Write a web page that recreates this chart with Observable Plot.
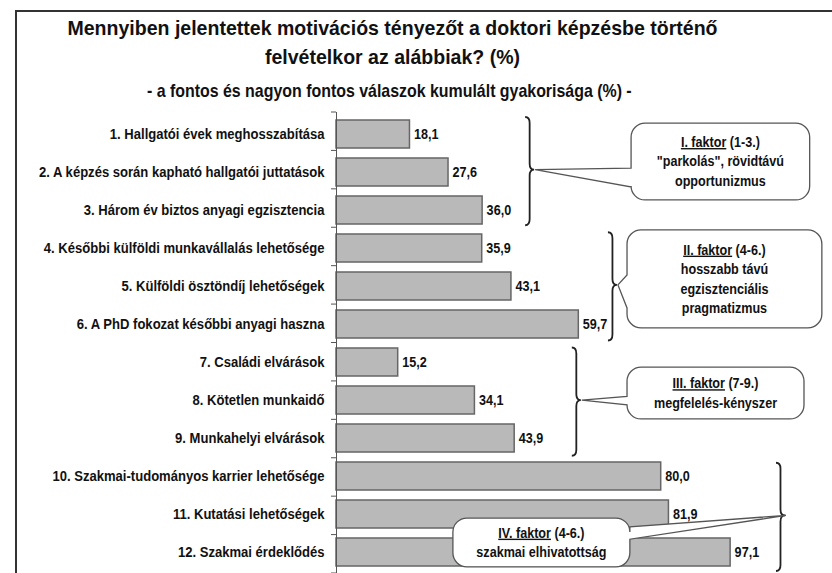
<!DOCTYPE html>
<html><head><meta charset="utf-8">
<script src="https://cdn.jsdelivr.net/npm/d3@7"></script>
<script src="https://cdn.jsdelivr.net/npm/@observablehq/plot@0.6"></script>
<style>
html,body{margin:0;padding:0;background:#fff;overflow:hidden;width:832px;height:573px;}
body{position:relative;font-family:"Liberation Sans",Arial,sans-serif;font-weight:bold;color:#111;}
#frame{position:absolute;left:15px;top:10px;width:900px;height:700px;border-top:2px solid #333;border-left:2px solid #333;}
#title{position:absolute;left:0;width:784px;top:13px;text-align:center;font-size:21px;line-height:29px;}
#subtitle{position:absolute;left:0;width:778px;top:81px;text-align:center;font-size:17.7px;line-height:20px;}
.narrow{display:inline-block;transform:scaleX(0.9);transform-origin:50% 50%;}
#title .narrow{transform:scaleX(0.93);}
#chart{position:absolute;left:0;top:100px;}
</style></head>
<body>
<div id="frame"></div>
<div id="title"><span class="narrow">Mennyiben jelentettek motivációs tényezőt a doktori képzésbe történő<br>felvételkor az alábbiak? (%)</span></div>
<div id="subtitle"><span class="narrow">- a fontos és nagyon fontos válaszok kumulált gyakorisága (%) -</span></div>
<div id="chart"></div>
<script>
// ---- data ----
const categories = [
  "1. Hallgatói évek meghosszabítása",
  "2. A képzés során kapható hallgatói juttatások",
  "3. Három év biztos anyagi egzisztencia",
  "4. Későbbi külföldi munkavállalás lehetősége",
  "5. Külföldi ösztöndíj lehetőségek",
  "6. A PhD fokozat későbbi anyagi haszna",
  "7. Családi elvárások",
  "8. Kötetlen munkaidő",
  "9. Munkahelyi elvárások",
  "10. Szakmai-tudományos karrier lehetősége",
  "11. Kutatási lehetőségek",
  "12. Szakmai érdeklődés"
];
const values = [18.1, 27.6, 36.0, 35.9, 43.1, 59.7, 15.2, 34.1, 43.9, 80.0, 81.9, 97.1];
const factorTitles = ["I. faktor", "II. faktor", "III. faktor", "IV. faktor"];
const factorRanges = ["(1-3.)", "(4-6.)", "(7-9.)", "(4-6.)"];
const factorLines = [
  ["\"parkolás\", rövidtávú", "opportunizmus"],
  ["hosszabb távú", "egzisztenciális", "pragmatizmus"],
  ["megfelelés-kényszer"],
  ["szakmai elhivatottság"]
];
const factorFirstRow = [0, 3, 6, 9];
const factorLastRow = [2, 5, 8, 11];

// ---- annotation layout (x in data units, y in row units) ----
const layout = [
  {braceX: 46.6, box: [72.7, 116.7, 0.29, 2.29], side: "left",  base: [1.46, 1.95]},
  {braceX: 67.0, box: [71.7, 119.7, 3.07, 5.62], side: "left",  base: [4.24, 5.10]},
  {braceX: 58.1, box: [71.7, 115.3, 6.64, 7.99], side: "left",  base: [7.40, 7.62]},
  {braceX: 108.4, box: [28.8, 72.4, 10.57, 11.84], side: "right", base: [10.80, 11.12]}
];

const FONT = "'Liberation Sans',Arial,sans-serif";
const NARROW = 0.9;
const rows = categories.map((c, i) => ({c, v: values[i], label: values[i].toFixed(1).replace(".", ",")}));
const n = categories.length;

function boundaryTicks(index, scales, vals, dim) {
  const g = d3.create("svg:g");
  const step = (dim.height - dim.marginTop - dim.marginBottom) / n;
  const x0 = scales.x(0);
  for (let r = 0; r <= n; r++) {
    const y = dim.marginTop + r * step;
    g.append("line").attr("x1", x0 - 5).attr("x2", x0).attr("y1", y).attr("y2", y)
      .attr("stroke", "#555").attr("stroke-width", 1);
  }
  return g.node();
}

function annotations(index, scales, vals, dim) {
  const g = d3.create("svg:g");
  const step = (dim.height - dim.marginTop - dim.marginBottom) / n;
  const yr = r => dim.marginTop + r * step;
  layout.forEach((L, k) => {
    const top = yr(factorFirstRow[k]) + 5, bot = yr(factorLastRow[k] + 1) - 2;
    const mid = (yr(factorFirstRow[k]) + yr(factorLastRow[k] + 1)) / 2;
    const bx = scales.x(L.braceX), w = 9, r = 6, h = w / 2;
    g.append("path")
      .attr("d", `M${bx},${top} Q${bx + h},${top} ${bx + h},${top + r} L${bx + h},${mid - r} Q${bx + h},${mid} ${bx + w},${mid} Q${bx + h},${mid} ${bx + h},${mid + r} L${bx + h},${bot - r} Q${bx + h},${bot} ${bx},${bot}`)
      .attr("fill", "none").attr("stroke", "#222").attr("stroke-width", 1.8);
    const tx = bx + w + 1, ty = mid;
    const x1 = scales.x(L.box[0]), x2 = scales.x(L.box[1]), y1 = yr(L.box[2]), y2 = yr(L.box[3]);
    const ya = yr(L.base[0]), yb = yr(L.base[1]);
    const R = 14;
    let d = `M${x1 + R},${y1} H${x2 - R} A${R},${R} 0 0 1 ${x2},${y1 + R}`;
    if (L.side === "right") d += ` V${ya} L${tx},${ty} L${x2},${yb}`;
    d += ` V${y2 - R} A${R},${R} 0 0 1 ${x2 - R},${y2} H${x1 + R} A${R},${R} 0 0 1 ${x1},${y2 - R}`;
    if (L.side === "left") d += ` V${yb} L${tx},${ty} L${x1},${ya}`;
    d += ` V${y1 + R} A${R},${R} 0 0 1 ${x1 + R},${y1} Z`;
    g.append("path").attr("d", d).attr("fill", "#fff").attr("stroke", "#555").attr("stroke-width", 1.3);
    const lines = [null, ...factorLines[k]];
    const lh = 19.5;
    const cx = (x1 + x2) / 2, cy = (y1 + y2) / 2;
    lines.forEach((t, i) => {
      const y = cy + (i - (lines.length - 1) / 2) * lh;
      const text = g.append("g").attr("transform", `translate(${cx},${y}) scale(${NARROW},1)`)
        .append("text").attr("class", "noadj").attr("dy", "0.35em")
        .attr("text-anchor", "middle").attr("font-size", 14).attr("font-weight", "bold")
        .attr("font-family", FONT).attr("fill", "#111");
      if (t === null) {
        text.append("tspan").style("text-decoration", "underline").text(factorTitles[k]);
        text.append("tspan").text(" " + factorRanges[k]);
      } else text.text(t);
    });
  });
  return g.node();
}

const chart = Plot.plot({
  width: 832, height: 473,
  marginTop: 12, marginBottom: 0, marginLeft: 336, marginRight: 0,
  style: {fontFamily: FONT, fontSize: "14.5px", fontWeight: "bold", color: "#111", background: "transparent", overflow: "visible"},
  x: {domain: [0, 122.2], axis: null},
  y: {domain: categories, paddingInner: 0.27, paddingOuter: 0.135, label: null},
  marks: [
    Plot.axisY({tickSize: 0, tickPadding: 12, label: null, fontSize: 14.5}),
    Plot.barX(rows, {x: "v", y: "c", fill: "#b9b9b9", stroke: "#666", strokeWidth: 1.5}),
    Plot.text(rows, {x: "v", y: "c", text: "label", textAnchor: "start", dx: 4, fontSize: 14, fill: "#111"}),
    Plot.ruleX([0], {stroke: "#555", strokeWidth: 1}),
    boundaryTicks,
    annotations
  ]
});
document.getElementById("chart").appendChild(chart);
// narrow (condensed) rendering of the axis and value texts, like the original's narrow typeface
chart.querySelectorAll("text:not(.noadj)").forEach(t => {
  const len = t.getComputedTextLength();
  if (len > 0) {
    t.setAttribute("textLength", (len * NARROW).toFixed(2));
    t.setAttribute("lengthAdjust", "spacingAndGlyphs");
  }
});
</script>
</body></html>
